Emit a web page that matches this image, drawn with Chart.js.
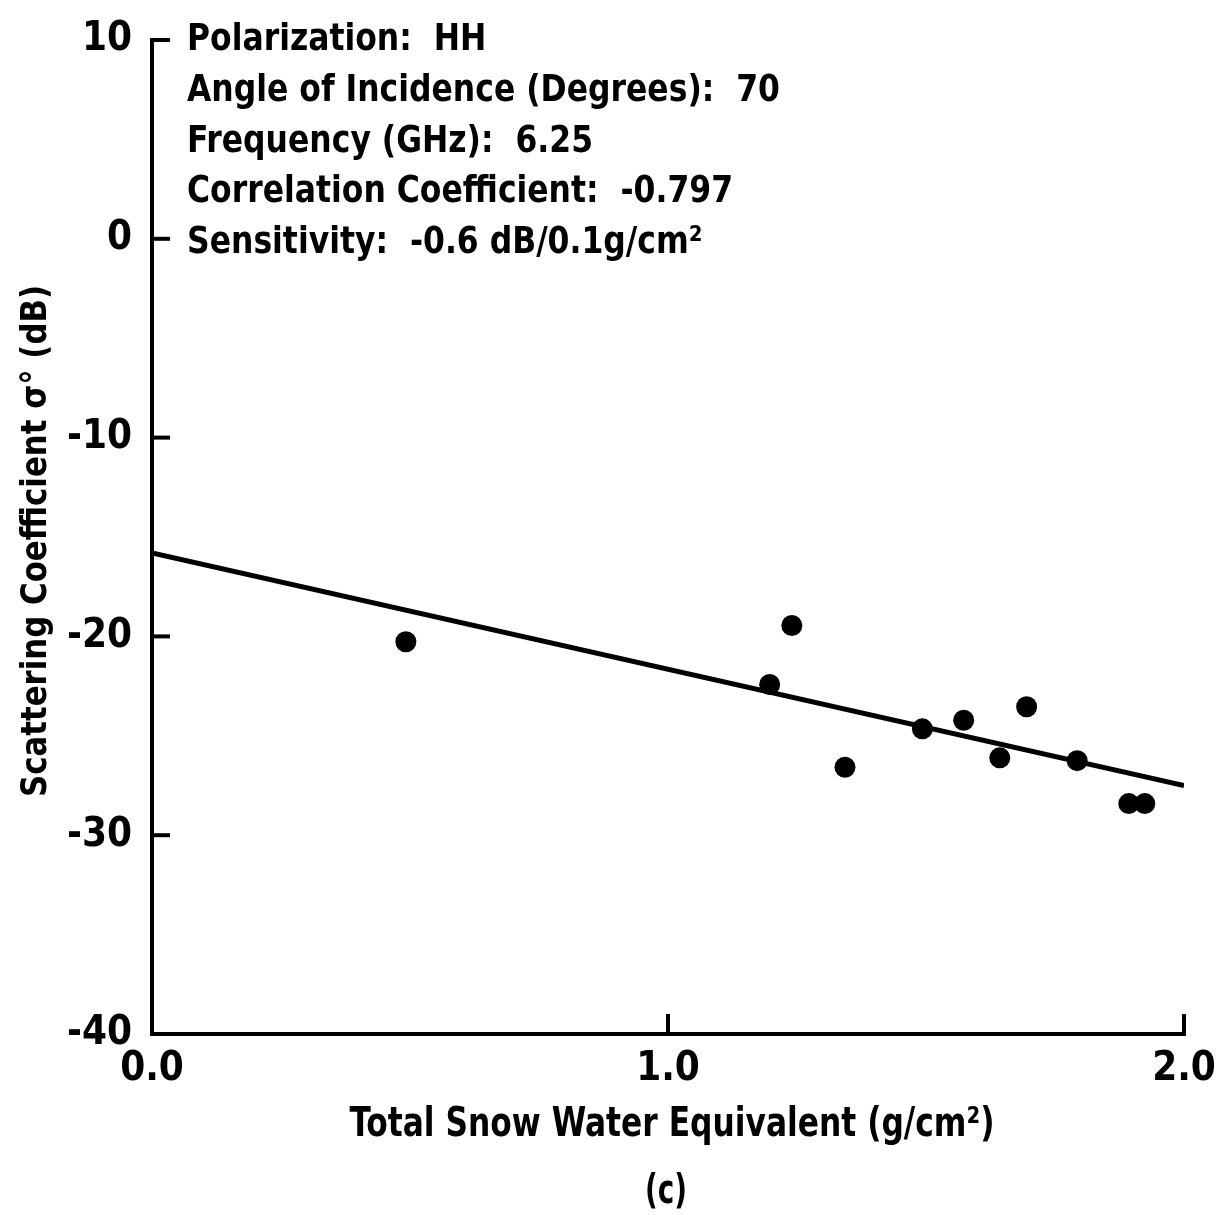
<!DOCTYPE html>
<html><head><meta charset="utf-8">
<script src="https://cdn.jsdelivr.net/npm/chart.js@4/dist/chart.umd.min.js"></script>
<style>html,body{margin:0;padding:0;background:#fff;} #wrap{width:1228px;height:1215px;position:relative;}</style>
</head><body><div id="wrap"><canvas id="c" width="1228" height="1215"></canvas></div>
<script>
// ---- data ----
const snowWater = [0.492, 1.197, 1.240, 1.343, 1.493, 1.573, 1.643, 1.695, 1.793, 1.893, 1.924];
const sigmaDb   = [-20.27, -22.42, -19.45, -26.58, -24.65, -24.22, -26.11, -23.54, -26.25, -28.41, -28.41];
const fitX = [0.0, 2.0];
const fitY = [-15.8, -27.5];
const xTickValues = [0, 1, 2];
const xTickLabels = ['0.0', '1.0', '2.0'];
const yTickValues = [10, 0, -10, -20, -30, -40];
const infoLines = [
  'Polarization:  HH',
  'Angle of Incidence (Degrees):  70',
  'Frequency (GHz):  6.25',
  'Correlation Coefficient:  -0.797',
  'Sensitivity:  -0.6 dB/0.1g/cm²'
];
const xTitle = 'Total Snow Water Equivalent (g/cm²)';
const yTitle = 'Scattering Coefficient σ° (dB)';
const caption = '(c)';

const TFONT = '"DejaVu Sans Condensed", "DejaVu Sans", sans-serif';

function drawFitted(ctx, text, x, y, font, width, align) {
  ctx.save();
  ctx.font = font;
  const w = ctx.measureText(text).width;
  const sx = width ? width / w : 1;
  ctx.translate(x, y);
  ctx.scale(sx, 1);
  ctx.textAlign = align || 'left';
  ctx.textBaseline = 'alphabetic';
  ctx.fillStyle = '#000';
  ctx.fillText(text, 0, 0);
  ctx.restore();
}

function zeroPad(s) { s.paddingLeft = 0; s.paddingRight = 0; s.paddingTop = 0; s.paddingBottom = 0; }

const extras = {
  id: 'extras',
  afterDraw(chart) {
    const ctx = chart.ctx;
    const xs = chart.scales.x, ys = chart.scales.y;
    ctx.save();
    ctx.strokeStyle = '#000';
    ctx.lineWidth = 4;
    ctx.lineCap = 'butt';
    ys.ticks.forEach(t => {
      const py = ys.getPixelForValue(t.value);
      ctx.beginPath(); ctx.moveTo(xs.left - 2, py); ctx.lineTo(xs.left + 18, py); ctx.stroke();
    });
    xs.ticks.forEach(t => {
      const px = xs.getPixelForValue(t.value);
      ctx.beginPath(); ctx.moveTo(px, ys.bottom + 2); ctx.lineTo(px, ys.bottom - 20); ctx.stroke();
    });
    ctx.restore();

    // info block
    const infoFont = 'bold 38px ' + TFONT;
    ctx.save(); ctx.font = infoFont;
    const sx = 593 / ctx.measureText(infoLines[1]).width;
    ctx.restore();
    const baselines = [50, 101, 152, 202, 253];
    infoLines.forEach((s, i) => {
      ctx.save(); ctx.font = infoFont;
      const w = ctx.measureText(s).width;
      ctx.restore();
      drawFitted(ctx, s, 187, baselines[i], infoFont, w * sx, 'left');
    });

    // x title
    drawFitted(ctx, xTitle, 672, 1136, 'bold 41px ' + TFONT, 645, 'center');
    // caption
    drawFitted(ctx, caption, 666, 1203, 'bold 40px ' + TFONT, 42, 'center');
    // y title
    ctx.save();
    ctx.translate(46, 541);
    ctx.rotate(-Math.PI / 2);
    drawFitted(ctx, yTitle, 0, 0, 'bold 36px ' + TFONT, 512, 'center');
    ctx.restore();
  }
};

new Chart(document.getElementById('c'), {
  type: 'scatter',
  data: {
    datasets: [
      {
        type: 'line',
        data: fitX.map((x, i) => ({ x: x, y: fitY[i] })),
        borderColor: '#000',
        borderWidth: 5,
        pointRadius: 0,
        fill: false,
        tension: 0
      },
      {
        data: snowWater.map((x, i) => ({ x: x, y: sigmaDb[i] })),
        backgroundColor: '#000',
        borderColor: '#000',
        borderWidth: 0,
        pointRadius: 10.5
      }
    ]
  },
  options: {
    responsive: false,
    animation: false,
    devicePixelRatio: 1,
    layout: { padding: { top: 40, right: 44, bottom: 0, left: 0 } },
    plugins: { legend: { display: false }, tooltip: { enabled: false } },
    scales: {
      x: {
        type: 'linear',
        min: 0, max: 2,
        afterBuildTicks: s => { s.ticks = xTickValues.map(v => ({ value: v })); },
        afterFit: s => { s.height = 181; zeroPad(s); },
        border: { display: true, color: '#000', width: 4 },
        grid: { display: true, drawOnChartArea: false, drawTicks: false, color: 'rgba(0,0,0,0)' },
        ticks: {
          color: '#000',
          padding: 12,
          maxRotation: 0,
          font: { family: TFONT, weight: 'bold', size: 40 },
          callback: (v) => xTickLabels[xTickValues.indexOf(v)]
        }
      },
      y: {
        type: 'linear',
        min: -40, max: 10,
        afterBuildTicks: s => { s.ticks = yTickValues.map(v => ({ value: v })); },
        afterFit: s => { s.width = 152; zeroPad(s); },
        border: { display: true, color: '#000', width: 4 },
        grid: { display: true, drawOnChartArea: false, drawTicks: false, color: 'rgba(0,0,0,0)' },
        ticks: {
          color: '#000',
          padding: 20,
          font: { family: TFONT, weight: 'bold', size: 40 },
          callback: (v) => String(v)
        }
      }
    }
  },
  plugins: [extras]
});
</script>
</body></html>
